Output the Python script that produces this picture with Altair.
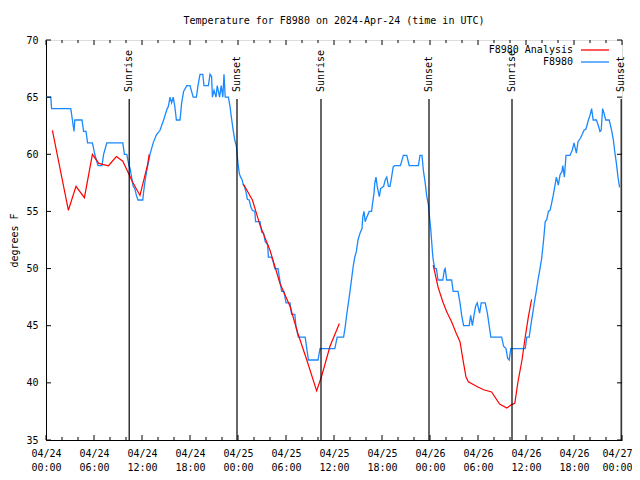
import altair as alt
import pandas as pd

# ---- data (hours since 2024-04-24 00:00 UTC) ----
obs_hours = [0, 0.6, 0.7, 3.1, 3.3, 3.5, 3.6, 4.5, 4.7, 5.0, 5.2, 5.8, 6.1, 6.5, 7.0, 7.2, 7.6, 9.6, 9.8, 10.1,
             10.375, 10.5, 10.7, 10.9, 11.1, 11.3, 11.5, 12.1, 12.2, 12.4, 12.6, 13.0, 13.4, 13.8, 14.25, 14.7,
             15.1, 15.3, 15.5, 15.7, 15.9, 16.1, 16.3, 16.75, 16.96, 17.2, 17.6, 18.0, 18.2, 18.4, 18.8, 19.0,
             19.25, 19.6, 19.75, 20.3, 20.5, 20.7, 20.8, 21.0, 21.25, 21.4, 21.7, 21.9, 22.1, 22.25, 22.4, 22.8,
             23.0, 23.2, 23.4, 23.6, 23.8, 23.9, 24.0, 24.17, 24.33, 24.5, 24.67, 24.8, 25.0, 25.17, 25.4, 25.6,
             25.8, 26.1, 26.2, 26.75, 26.96, 27.2, 27.4, 27.7, 27.8, 28.2, 28.4, 28.6, 29.0, 29.2, 29.46, 29.75,
             30.0, 30.5, 30.7, 31.1, 31.25, 31.54, 32.4, 32.6, 32.8, 34.0, 34.25, 36.1, 36.4, 37.2, 37.4, 37.6,
             37.8, 38.0, 38.2, 38.4, 38.6, 38.8, 39.0, 39.25, 39.5, 39.6, 39.75, 39.9, 40.1, 40.4, 40.7, 40.8,
             41.0, 41.1, 41.25, 41.4, 41.67, 41.83, 42.2, 42.4, 42.6, 42.8, 43.0, 43.2, 43.4, 43.6, 44.3, 44.67,
             45.1, 45.4, 46.55, 46.75, 47.0, 47.17, 47.4, 47.6, 47.8, 47.9, 48.0, 48.1, 48.3, 48.4, 48.6, 48.8,
             49.0, 49.6, 49.8, 49.9, 50.08, 50.7, 50.9, 51.5, 51.75, 51.96, 52.2, 52.9, 53.08, 53.3, 53.5, 53.7,
             53.9, 54.2, 54.4, 54.9, 55.17, 55.4, 55.6, 56.96, 57.2, 57.5, 57.7, 57.9, 58.1, 59.9, 60.1, 60.4,
             60.6, 60.8, 61.04, 61.3, 61.5, 61.75, 61.96, 62.2, 62.4, 62.6, 62.8, 63.0, 63.2, 63.4, 63.6, 63.8,
             64.04, 64.25, 64.5, 64.6, 64.8, 65.0, 65.5, 65.8, 66.0, 66.3, 66.5, 66.8, 67.0, 67.25, 67.5, 67.8,
             68.0, 68.2, 68.4, 68.8, 69.0, 69.25, 69.4, 69.58, 69.75, 69.96, 70.4, 70.7, 70.92, 71.1, 71.3, 71.5,
             71.7]
obs_temps = [65, 65, 64, 64, 63, 62, 63, 63, 62, 62, 61, 61, 60, 59, 59, 60, 61, 61, 60, 60,
             59, 58.8, 58, 57.2, 57, 56.4, 56, 56, 56.7, 57.75, 58.6, 60, 61, 61.7, 62.1, 63,
             63.9, 64.2, 65, 64.5, 65, 64.2, 63, 63, 64.5, 65.5, 66, 66, 65.5, 65, 65, 66,
             67, 67, 66, 66, 67, 66.8, 65, 65.6, 65, 66, 65, 66, 65, 67, 65, 65,
             64.2, 63.1, 62.1, 61.25, 60.7, 59.9, 59.2, 58.3, 58.0, 57.8, 57.3, 57.2, 56.7, 56.06, 56.0, 55.4,
             55.1, 55.0, 54.1, 54.1, 53.2, 53.1, 52.35, 52.1, 51.0, 51.0, 50.6, 50.0, 50.0, 49.1, 48.0, 48.0,
             47.0, 47.0, 46.0, 46.0, 44.9, 44.0, 44.0, 43.0, 42.0, 42.0, 43.0, 43.0, 44.0, 44.0, 44.9, 46.0,
             47.0, 48.0, 49.1, 50.2, 51.0, 51.5, 52.5, 53.1, 53.5, 54.5, 55.0, 54.1, 54.5, 55.0, 55.0, 55.6,
             56.6, 57.5, 58.0, 57.2, 56.3, 57.0, 57.2, 57.75, 58.0, 57.2, 57.2, 58.0, 58.9, 59.0, 59.0, 59.9,
             59.9, 59.0, 59.0, 59.9, 59.9, 58.6, 57.5, 56.3, 55.6, 54.8, 54.1, 53.4, 51.5, 50.75, 50.0, 50.0,
             49.0, 49.0, 49.9, 50.0, 49.0, 49.0, 48.0, 48.0, 47.0, 45.9, 45.0, 45.0, 45.9, 45.0, 45.9, 46.7,
             47.0, 46.1, 47.0, 47.0, 46.1, 45.0, 44.0, 44.0, 43.2, 43.0, 42.15, 42.0, 43.0, 43.0, 44.0, 44.0,
             45.0, 45.9, 47.0, 48.1, 49.0, 50.0, 50.9, 52.5, 54.1, 54.3, 55.0, 55.1, 55.7, 56.4, 57.2, 58.0,
             57.3, 58.2, 58.5, 59.0, 58.0, 59.9, 59.9, 60.4, 61.0, 60.1, 61.1, 61.4, 61.7, 62.1, 62.2, 63.0,
             63.4, 64.0, 63.0, 63.0, 62.6, 62.0, 62.1, 64.0, 63.6, 63.0, 63.0, 62.1, 61.25, 60.2, 59.2, 58.0,
             57.1]

ana_hours_1 = [0.8, 1.8, 2.8, 3.75, 4.8, 5.8, 6.6, 7.8, 8.8, 9.6, 10.4, 10.8, 11.75, 12.7, 12.9]
ana_temps_1 = [62.1, 58.6, 55.1, 57.2, 56.2, 60.0, 59.2, 59.0, 59.8, 59.4, 58.2, 57.6, 56.4, 59.1, 60.0]
ana_hours_2 = [24.67, 25.8, 26.75, 28.0, 29.25, 30.5, 31.5, 32.6, 33.83, 34.46, 35.5, 36.67]
ana_temps_2 = [57.4, 56.0, 53.8, 51.6, 48.7, 46.7, 44.3, 42.0, 39.3, 40.6, 43.2, 45.2]
ana_hours_3 = [48.4, 49.0, 49.6, 50.1, 50.7, 51.3, 51.75, 52.2, 52.5, 52.8, 53.8, 54.7, 55.7, 56.7, 57.6,
               58.2, 58.6, 59.0, 59.5, 59.9, 60.3, 60.7]
ana_temps_3 = [50.3, 48.4, 47.1, 46.2, 45.35, 44.3, 43.6, 41.7, 40.5, 40.1, 39.7, 39.4, 39.2, 38.15, 37.8,
               38.1, 38.2, 40.1, 42.0, 44.0, 45.8, 47.3]

sun_hours = [10.4, 23.875, 34.375, 47.875, 58.25, 71.9]
sun_labels = ["Sunrise", "Sunset", "Sunrise", "Sunset", "Sunrise", "Sunset"]

series_names = ["F8980 Analysis", "F8980"]
series_colors = ["#ff0000", "#1a88ff"]

x_major = [0, 6, 12, 18, 24, 30, 36, 42, 48, 54, 60, 66, 72]
x_minor = [h for h in range(0, 73, 2) if h % 6 != 0]
y_major = [35, 40, 45, 50, 55, 60, 65, 70]

W, H = 576, 400
FONT = "DejaVu Sans Mono"

obs = pd.DataFrame({"h": obs_hours, "t": obs_temps})
ana = pd.DataFrame({
    "h": ana_hours_1 + ana_hours_2 + ana_hours_3,
    "t": ana_temps_1 + ana_temps_2 + ana_temps_3,
    "seg": [1] * len(ana_hours_1) + [2] * len(ana_hours_2) + [3] * len(ana_hours_3),
})
sun = pd.DataFrame({"h": sun_hours, "label": sun_labels})

xscale = alt.Scale(domain=[0, 72], nice=False, zero=False)
yscale = alt.Scale(domain=[35, 70], nice=False, zero=False)

label_expr = ("['04/' + (24 + floor(datum.value / 24)), "
              "((datum.value % 24) < 10 ? '0' : '') + (datum.value % 24) + ':00']")

xaxis = alt.Axis(values=x_major, labelExpr=label_expr, title=None, ticks=False, grid=False,
                 labelFont=FONT, labelFontSize=10, labelColor="black", labelPadding=8,
                 labelLineHeight=14, domainColor="black", labelFlush=False,
                 labelAlign=alt.ConditionalAxisLabelAlign(
                     condition={"test": "datum.value >= 72", "value": "right"}, value="center"),
                 labelOffset=alt.ConditionalAxisNumber(
                     condition={"test": "datum.value >= 72", "value": 10}, value=0))
yaxis = alt.Axis(values=y_major, title="degrees F", ticks=False, grid=False, labelFont=FONT,
                 labelFontSize=10, labelColor="black", labelPadding=8, titleFont=FONT,
                 titleFontSize=10, titleFontWeight="normal", titleColor="black", titlePadding=6,
                 domainColor="black")

base_obs = alt.Chart(obs).mark_line(color=series_colors[1], strokeWidth=1.3).encode(
    x=alt.X("h:Q", scale=xscale, axis=xaxis),
    y=alt.Y("t:Q", scale=yscale, axis=yaxis),
)
ana_line = alt.Chart(ana).mark_line(color=series_colors[0], strokeWidth=1.2).encode(
    x=alt.X("h:Q", scale=xscale),
    y=alt.Y("t:Q", scale=yscale),
    detail="seg:N",
)

sun_rule = alt.Chart(sun).mark_rule(color="black", strokeWidth=1.2).encode(
    x=alt.X("h:Q", scale=xscale), y=alt.value(59), y2=alt.value(H))
sun_text = alt.Chart(sun).mark_text(angle=270, align="left", baseline="middle", font=FONT,
                                    fontSize=10, color="black").encode(
    x=alt.X("h:Q", scale=xscale), y=alt.value(52), text="label:N")

# inward tick marks on all four sides
xmaj = pd.DataFrame({"h": x_major})
xmin = pd.DataFrame({"h": x_minor})
ymaj = pd.DataFrame({"t": y_major})
tick_layers = [
    alt.Chart(xmaj).mark_rule(color="black").encode(x=alt.X("h:Q", scale=xscale), y=alt.value(H), y2=alt.value(H - 5)),
    alt.Chart(xmaj).mark_rule(color="black").encode(x=alt.X("h:Q", scale=xscale), y=alt.value(0), y2=alt.value(5)),
    alt.Chart(xmin).mark_rule(color="black").encode(x=alt.X("h:Q", scale=xscale), y=alt.value(H), y2=alt.value(H - 3)),
    alt.Chart(xmin).mark_rule(color="black").encode(x=alt.X("h:Q", scale=xscale), y=alt.value(0), y2=alt.value(3)),
    alt.Chart(ymaj).mark_rule(color="black").encode(y=alt.Y("t:Q", scale=yscale), x=alt.value(0), x2=alt.value(5)),
    alt.Chart(ymaj).mark_rule(color="black").encode(y=alt.Y("t:Q", scale=yscale), x=alt.value(W), x2=alt.value(W - 5)),
]

# legend (top right, text left of line sample like gnuplot)
leg_layers = []
for i, (name, col) in enumerate(zip(series_names, series_colors)):
    one = pd.DataFrame({"name": [name]})
    yy = 10 + 12 * i
    leg_layers.append(alt.Chart(one).mark_text(align="right", baseline="middle", font=FONT, fontSize=10,
                                                color="black").encode(
        x=alt.value(527), y=alt.value(yy), text="name:N"))
    leg_layers.append(alt.Chart(one).mark_rule(color=col, strokeWidth=1.3).encode(
        x=alt.value(535), x2=alt.value(563), y=alt.value(yy)))

chart = alt.layer(
    base_obs, ana_line, sun_rule, sun_text, *tick_layers, *leg_layers
).properties(
    width=W, height=H,
    title=alt.TitleParams("Temperature for F8980 on 2024-Apr-24 (time in UTC)", font=FONT, fontSize=10,
                          fontWeight="normal", color="black", anchor="middle", offset=9),
    autosize=alt.AutoSizeParams(type="none"),
    padding={"left": 38, "top": 32, "right": 10, "bottom": 40},
).configure_view(stroke="black", strokeWidth=1).configure(background="white")

chart.save("out.html", embed_options={"renderer": "svg", "actions": False})
